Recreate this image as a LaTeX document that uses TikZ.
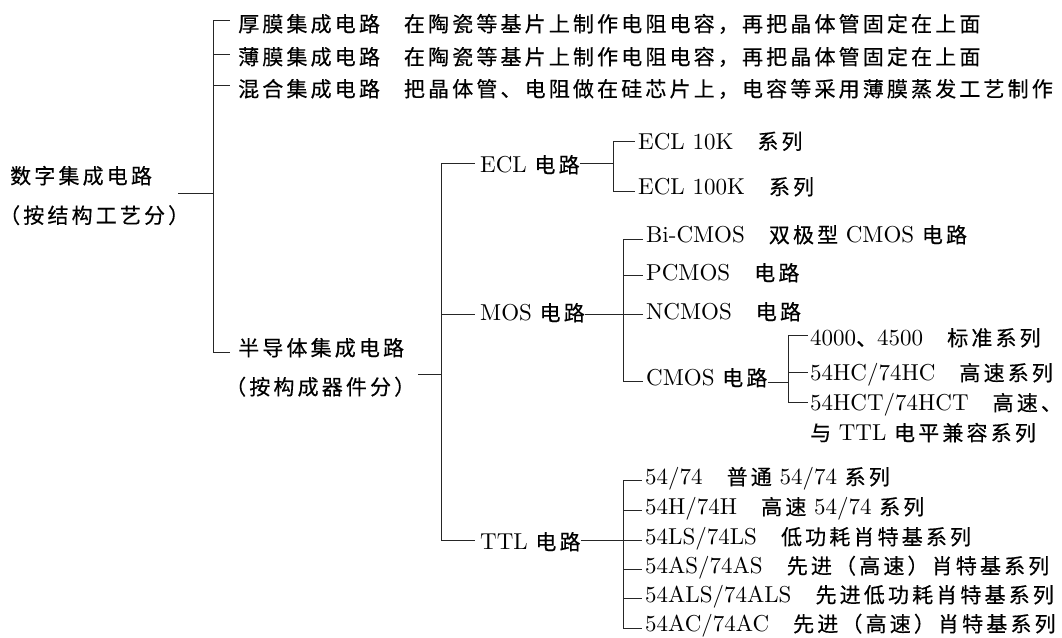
\documentclass[tikz,border=0pt]{standalone}
\usepackage{fontspec}
\setmainfont{lmroman10-regular.otf}
\newfontfamily\zhfont[LetterSpace=15,FakeBold=0.4]{Noto Sans CJK SC}
\newcommand{\zh}[1]{{\zhfont\fontsize{21}{25}\selectfont #1}}
\newcommand{\gp}{\hspace{24pt}}
\begin{document}
\begin{tikzpicture}[x=1pt,y=-1pt,
  lbl/.style={anchor=west, inner sep=0pt, text height=18pt, text depth=2.6pt, font=\fontsize{23}{28}\selectfont},
  ln/.style={draw=black!85, line width=0.9pt}]
\useasboundingbox (0,0) rectangle (1062,637);
% ---------- level 0
\node[lbl] (root)  at (10,176)   {\zh{数字集成电路}};
\node[lbl] (rootb) at (-1,215.5) {\zh{（按结构工艺分）}};
\coordinate (r0) at (178,193);
\coordinate (b1) at (213,193);
\draw[ln] (r0) -- (b1);
% ---------- level 1
\coordinate (v1t) at (213,20);
\coordinate (v1b) at (213,352);
\draw[ln] (v1t) -- (v1b);
\draw[ln] (v1t) -- ++(17,0);
\draw[ln] (213,54) -- ++(17,0);
\draw[ln] (213,85) -- ++(17,0);
\draw[ln] (v1b) -- ++(17,0);
\node[lbl] (thick) at (238,24) {\zh{厚膜集成电路}\gp\zh{在陶瓷等基片上制作电阻电容，再把晶体管固定在上面}};
\node[lbl] (thin)  at (238,57) {\zh{薄膜集成电路}\gp\zh{在陶瓷等基片上制作电阻电容，再把晶体管固定在上面}};
\node[lbl] (hyb)   at (238,89) {\zh{混合集成电路}\gp\zh{把晶体管、电阻做在硅芯片上，电容等采用薄膜蒸发工艺制作}};
\node[lbl] (semi)  at (238,348) {\zh{半导体集成电路}};
\node[lbl] (semib) at (225,387) {\zh{（按构成器件分）}};
% ---------- level 2
\coordinate (s0) at (418,374);
\coordinate (b2) at (441,374);
\draw[ln] (s0) -- (b2);
\coordinate (v2t) at (441,163);
\coordinate (v2b) at (441,540);
\draw[ln] (v2t) -- (v2b);
\draw[ln] (v2t) -- ++(34,0);
\draw[ln] (441,314) -- ++(34,0);
\draw[ln] (v2b) -- ++(34,0);
\node[lbl] (ecl) at (480,165) {ECL \zh{电路}};
\node[lbl] (mos) at (480,313) {MOS \zh{电路}};
\node[lbl] (ttl) at (480,542) {TTL \zh{电路}};
% ---------- ECL
\coordinate (e1) at (613,163);
\draw[ln] (ecl.east |- e1) -- (e1);
\coordinate (vet) at (613,141);
\coordinate (veb) at (613,191);
\draw[ln] (vet) -- (veb);
\draw[ln] (vet) -- ++(22,0);
\draw[ln] (veb) -- ++(22,0);
\node[lbl] (ecl10)  at (638,141.5) {ECL 10K\gp\zh{系列}};
\node[lbl] (ecl100) at (638,187)   {ECL 100K\gp\zh{系列}};
% ---------- MOS
\coordinate (m1) at (623,314);
\draw[ln] (mos.east |- m1) -- (m1);
\coordinate (vmt) at (623,239);
\coordinate (vmb) at (623,381);
\draw[ln] (vmt) -- (vmb);
\draw[ln] (vmt) -- ++(20,0);
\draw[ln] (623,275) -- ++(20,0);
\draw[ln] (m1) -- ++(20,0);
\draw[ln] (vmb) -- ++(20,0);
\node[lbl] (bicmos) at (646,235) {Bi-CMOS\gp\zh{双极型} CMOS \zh{电路}};
\node[lbl] (pcmos)  at (646,273) {PCMOS\gp\zh{电路}};
\node[lbl] (ncmos)  at (646,312) {NCMOS\gp\zh{电路}};
\node[lbl] (cmos)   at (646,378) {CMOS \zh{电路}};
% ---------- CMOS
\coordinate (c1) at (788,382);
\draw[ln] (cmos.east |- c1) -- (c1);
\coordinate (vct) at (788,335);
\coordinate (vcb) at (788,402);
\draw[ln] (vct) -- (vcb);
\draw[ln] (vct) -- ++(20,0);
\draw[ln] (788,372) -- ++(20,0);
\draw[ln] (vcb) -- ++(20,0);
\node[lbl] (c4000) at (810,338) {4000\zh{、}4500\gp\zh{标准系列}};
\node[lbl] (chc)   at (810,373) {54HC/74HC\gp\zh{高速系列}};
\node[lbl] (chct)  at (810,403) {54HCT/74HCT\gp\zh{高速、}};
\node[lbl] (chctb) at (810,433) {\zh{与} TTL \zh{电平兼容系列}};
% ---------- TTL
\coordinate (t1) at (623,540);
\draw[ln] (ttl.east |- t1) -- (t1);
\coordinate (vtt) at (623,480);
\coordinate (vtb) at (623,628);
\draw[ln] (vtt) -- (vtb);
\foreach \yy in {480,510,540,569,598,628} \draw[ln] (623,\yy) -- ++(19,0);
\node[lbl] (ta) at (645,477) {54/74\gp\zh{普通} 54/74 \zh{系列}};
\node[lbl] (tb) at (645,507) {54H/74H\gp\zh{高速} 54/74 \zh{系列}};
\node[lbl] (tc) at (645,537) {54LS/74LS\gp\zh{低功耗肖特基系列}};
\node[lbl] (td) at (645,566) {54AS/74AS\gp\zh{先进（高速）肖特基系列}};
\node[lbl] (te) at (645,595) {54ALS/74ALS\gp\zh{先进低功耗肖特基系列}};
\node[lbl] (tf) at (645,624) {54AC/74AC\gp\zh{先进（高速）肖特基系列}};
\end{tikzpicture}
\end{document}
